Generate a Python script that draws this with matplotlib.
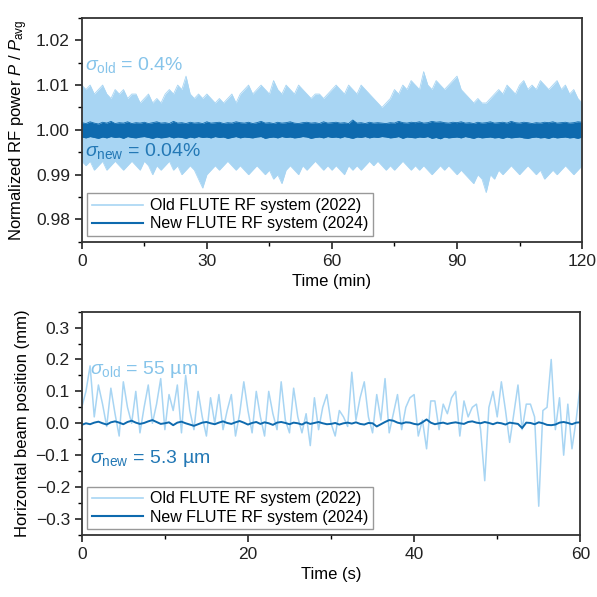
import numpy as np
import matplotlib.pyplot as plt

plt.rcParams['font.family'] = ['Liberation Sans', 'DejaVu Sans']
plt.rcParams['mathtext.fontset'] = 'custom'
plt.rcParams['mathtext.rm'] = 'Liberation Sans'
plt.rcParams['mathtext.it'] = 'Liberation Sans:italic'

# --- top panel: RF power, deviation from 1 in units of 1e-3, one value per minute
old_hi = [10, 9, 10, 8, 9, 10, 8, 7, 9, 8, 9, 7, 8, 8, 6, 7, 8, 6, 7, 6,
          8, 9, 8, 10, 9, 12, 8, 7, 8, 7, 8, 7, 6, 7, 6, 7, 8, 6, 8, 9,
          10, 8, 9, 10, 9, 8, 11, 9, 8, 10, 9, 8, 10, 9, 8, 7, 8, 8, 7, 8,
          9, 10, 9, 8, 10, 9, 8, 10, 9, 8, 7, 6, 5, 6, 7, 9, 8, 10, 9, 11,
          10, 9, 13, 10, 9, 11, 10, 9, 10, 11, 12, 9, 8, 7, 6, 7, 6, 6, 7, 8,
          9, 8, 10, 9, 8, 10, 11, 9, 10, 9, 11, 10, 9, 10, 11, 9, 10, 8, 9, 7, 6]
old_lo = [-7, -8, -7, -9, -8, -7, -9, -8, -7, -8, -9, -8, -7, -8, -9, -7, -8, -10, -8, -9,
          -8, -7, -9, -8, -10, -9, -8, -9, -11, -13, -10, -9, -8, -9, -8, -7, -8, -9, -8, -9,
          -10, -9, -8, -9, -10, -9, -11, -10, -12, -9, -8, -9, -10, -8, -9, -8, -7, -8, -9, -8,
          -9, -8, -9, -10, -8, -9, -8, -9, -8, -7, -8, -7, -8, -9, -8, -9, -8, -7, -8, -9,
          -8, -9, -8, -9, -10, -9, -8, -9, -8, -9, -10, -9, -10, -11, -12, -10, -11, -14, -10, -11,
          -9, -10, -9, -8, -9, -10, -9, -8, -9, -10, -9, -11, -10, -9, -10, -9, -8, -9, -10, -9, -8]
new_hi = [1.6, 1.4, 1.8, 1.5, 1.3, 1.7, 1.5, 1.9, 1.4, 1.6, 1.5, 1.8, 1.4, 1.6, 1.5, 1.7, 1.4, 1.6, 1.8, 1.5,
          1.6, 1.4, 1.9, 1.5, 1.6, 1.4, 1.7, 1.5, 1.6, 1.4, 1.8, 1.5, 1.6, 1.7, 1.4, 1.6, 1.5, 1.8, 1.6, 1.5,
          1.7, 1.4, 1.6, 1.9, 1.5, 1.6, 1.4, 1.7, 1.5, 1.6, 1.8, 1.5, 1.4, 1.6, 1.7, 1.5, 1.6, 1.4, 1.8, 1.5,
          1.6, 1.7, 1.5, 1.6, 1.4, 2.2, 1.5, 1.6, 1.4, 1.7, 1.5, 1.6, 1.5, 1.4, 1.6, 1.5, 1.9, 1.6, 1.5, 1.7,
          1.6, 1.8, 1.5, 1.6, 1.9, 1.7, 1.8, 1.6, 1.5, 1.7, 1.6, 1.8, 1.5, 1.6, 1.4, 1.7, 1.5, 1.6, 1.8, 1.5,
          1.6, 1.7, 1.5, 1.9, 1.6, 1.5, 1.7, 1.6, 1.4, 1.6, 1.5, 1.7, 1.6, 1.8, 1.5, 1.6, 1.7, 1.5, 1.6, 1.8, 1.7]
new_lo = [-1.6, -1.8, -1.5, -1.7, -1.9, -1.6, -1.8, -1.5, -1.7, -1.6, -1.9, -1.5, -1.7, -1.8, -1.6, -1.5, -1.7, -1.9, -1.6, -1.8,
          -1.7, -1.5, -1.8, -1.6, -1.7, -1.9, -1.6, -1.8, -1.5, -1.7, -1.6, -1.8, -1.5, -1.7, -1.6, -1.9, -1.7, -1.5, -1.8, -1.6,
          -1.7, -1.8, -1.6, -1.5, -1.9, -1.7, -1.6, -1.8, -1.5, -1.7, -1.6, -1.8, -1.7, -1.5, -1.6, -1.9, -1.7, -1.6, -1.8, -1.5,
          -1.7, -1.6, -1.8, -1.5, -1.7, -1.9, -1.6, -1.7, -1.5, -1.8, -1.6, -1.7, -1.5, -1.6, -1.8, -1.7, -1.5, -1.9, -1.6, -1.7,
          -1.8, -1.6, -1.7, -1.5, -1.9, -1.7, -2.0, -1.6, -1.8, -1.7, -1.6, -1.8, -1.5, -1.7, -1.9, -1.6, -1.8, -1.7, -1.6, -1.8,
          -1.7, -1.9, -1.6, -1.8, -1.7, -1.6, -1.8, -1.9, -1.7, -1.6, -1.8, -1.7, -1.9, -1.6, -1.8, -1.7, -1.6, -1.8, -1.7, -1.9, -1.6]

# --- bottom panel: horizontal beam position (mm), one value every 0.5 s
old_pos = [0.05, 0.10, 0.18, 0.02, 0.12, 0.06, -0.01, 0.11, 0.03, -0.04,
           0.13, 0.05, 0.00, 0.10, -0.03, 0.05, 0.12, 0.00, 0.06, 0.14,
           -0.02, 0.09, 0.04, 0.12, -0.03, 0.15, 0.04, -0.02, 0.10, 0.02,
           -0.04, 0.08, 0.00, 0.09, -0.02, 0.04, 0.09, -0.04, 0.03, 0.13,
           0.04, -0.03, 0.10, 0.02, -0.04, 0.10, 0.03, -0.02, 0.13, 0.01,
           -0.03, 0.11, 0.02, -0.03, 0.03, -0.07, 0.08, -0.02, 0.05, 0.09,
           0.00, -0.04, 0.04, 0.02, -0.01, 0.16, 0.01, 0.08, 0.13, 0.02,
           -0.03, 0.09, 0.01, 0.14, -0.03, 0.03, 0.09, -0.02, 0.05, 0.08,
           0.09, -0.04, 0.01, -0.08, 0.07, 0.07, -0.02, 0.06, 0.03, 0.08,
           0.10, -0.04, 0.07, 0.02, 0.05, 0.06, -0.02, -0.18, 0.05, 0.10,
           0.02, 0.13, 0.04, -0.06, 0.03, 0.12, -0.02, 0.06, 0.06, 0.02,
           -0.26, 0.04, 0.05, 0.20, -0.02, 0.08, -0.10, 0.06, -0.08, 0.01, 0.12]
new_pos = [-0.005, 0.000, -0.003, 0.002, 0.005, 0.000, -0.004, 0.003, 0.006, 0.002,
           -0.003, 0.004, 0.008, 0.002, -0.002, 0.001, 0.006, 0.010, 0.004, -0.002,
           0.000, 0.003, -0.006, 0.002, 0.005, 0.000, -0.004, -0.008, -0.003, 0.002,
           0.004, 0.000, -0.003, 0.002, 0.006, 0.001, -0.002, 0.003, 0.007, 0.002,
           -0.004, 0.001, 0.004, -0.002, 0.003, 0.000, -0.005, 0.002, 0.004, 0.001,
           -0.003, 0.002, 0.000, -0.004, 0.003, -0.002, 0.001, 0.004, 0.000, -0.003,
           -0.002, 0.001, -0.004, 0.000, 0.002, -0.001, 0.003, -0.002, -0.004, 0.001,
           0.000, -0.010, -0.003, 0.004, 0.010, 0.008, 0.002, -0.001, 0.003, 0.002,
           -0.002, -0.004, 0.003, 0.012, 0.002, -0.003, 0.000, 0.002, -0.002, 0.001,
           0.003, 0.000, -0.002, 0.004, 0.006, 0.002, 0.000, 0.004, 0.001, -0.003,
           0.002, 0.000, -0.004, 0.002, 0.000, -0.002, -0.015, 0.002, 0.001, -0.003,
           0.003, 0.000, -0.005, -0.006, -0.004, 0.002, 0.004, 0.001, -0.003, 0.002, 0.003]

c_old = '#a8d5f3'
c_new = '#0e6aae'
c_old_txt = '#86c4ea'
c_new_txt = '#2378b5'

fig = plt.figure(figsize=(5.97, 5.97), dpi=100)
ax1 = fig.add_axes([0.137, 0.595, 0.838, 0.375])
ax2 = fig.add_axes([0.137, 0.104, 0.835, 0.374])

t_min = np.linspace(0, 120, len(old_hi))
t_min2 = np.linspace(0, 120, len(new_hi))
old_hi_p = 1 + np.array(old_hi) / 1000
old_lo_p = 1 + np.array(old_lo) / 1000
new_hi_p = 1 + np.array(new_hi) / 1000
new_lo_p = 1 + np.array(new_lo) / 1000

# the dense noise shows up as a band between the upper and lower readings
ax1.fill_between(t_min, old_lo_p, old_hi_p, color=c_old, lw=0)
ax1.plot(t_min, old_hi_p, color=c_old, lw=0.6, label='Old FLUTE RF system (2022)')
ax1.plot(t_min, old_lo_p, color=c_old, lw=0.6)
ax1.fill_between(t_min2, new_lo_p, new_hi_p, color=c_new, lw=0)
ax1.plot(t_min2, new_hi_p, color=c_new, lw=0.6, label='New FLUTE RF system (2024)')
ax1.plot(t_min2, new_lo_p, color=c_new, lw=0.6)
ax1.set_xlim(0, 120)
ax1.set_ylim(0.975, 1.025)
ax1.set_xticks([0, 30, 60, 90, 120])
ax1.set_xticks([15, 45, 75, 105], minor=True)
ax1.set_yticks([0.98, 0.99, 1.00, 1.01, 1.02])
ax1.set_yticks(np.arange(0.975, 1.026, 0.005), minor=True)
ax1.set_yticklabels(['0.98', '0.99', '1.00', '1.01', '1.02'])
ax1.set_xlabel('Time (min)', fontsize=12)
ax1.set_ylabel('Normalized RF power $P$ / $P_{\\rm avg}$', fontsize=12)
ax1.text(0.7, 1.0145, '$\\sigma_{\\rm old}$ = 0.4%', color=c_old_txt, fontsize=14, va='center')
ax1.text(0.7, 0.9952, '$\\sigma_{\\rm new}$ = 0.04%', color=c_new_txt, fontsize=14, va='center')

t_pos = np.linspace(0, 60, len(old_pos))
t_pos2 = np.linspace(0, 60, len(new_pos))
ax2.plot(t_pos, old_pos, color=c_old, lw=1.1, label='Old FLUTE RF system (2022)')
ax2.plot(t_pos2, new_pos, color=c_new, lw=1.4, label='New FLUTE RF system (2024)')
ax2.set_xlim(0, 60)
ax2.set_ylim(-0.35, 0.35)
ax2.set_xticks([0, 20, 40, 60])
ax2.set_xticks([10, 30, 50], minor=True)
ax2.set_yticks([-0.3, -0.2, -0.1, 0.0, 0.1, 0.2, 0.3])
ax2.set_yticks(np.arange(-0.35, 0.36, 0.05), minor=True)
ax2.set_xlabel('Time (s)', fontsize=12)
ax2.set_ylabel('Horizontal beam position (mm)', fontsize=12)
ax2.text(1.0, 0.17, '$\\sigma_{\\rm old}$ = 55 µm', color=c_old_txt, fontsize=14, va='center')
ax2.text(1.0, -0.11, '$\\sigma_{\\rm new}$ = 5.3 µm', color=c_new_txt, fontsize=14, va='center')

for ax in (ax1, ax2):
    ax.tick_params(which='major', direction='out', length=5, width=1.2, labelsize=12.5, colors='#222222')
    ax.tick_params(which='minor', direction='out', length=3, width=1.0)
    for s in ax.spines.values():
        s.set_linewidth(1.3)
        s.set_color('#333333')
    leg = ax.legend(loc='lower left', fontsize=11.5, handlelength=3.2, fancybox=False,
                    framealpha=1, edgecolor='#999999', borderaxespad=0.35,
                    handletextpad=0.4, labelspacing=0.2, borderpad=0.3)
    leg.get_frame().set_linewidth(1.0)
    leg.legend_handles[0].set_linewidth(1.2)
    leg.legend_handles[1].set_linewidth(1.5)

fig.savefig('out.png', dpi=100)
